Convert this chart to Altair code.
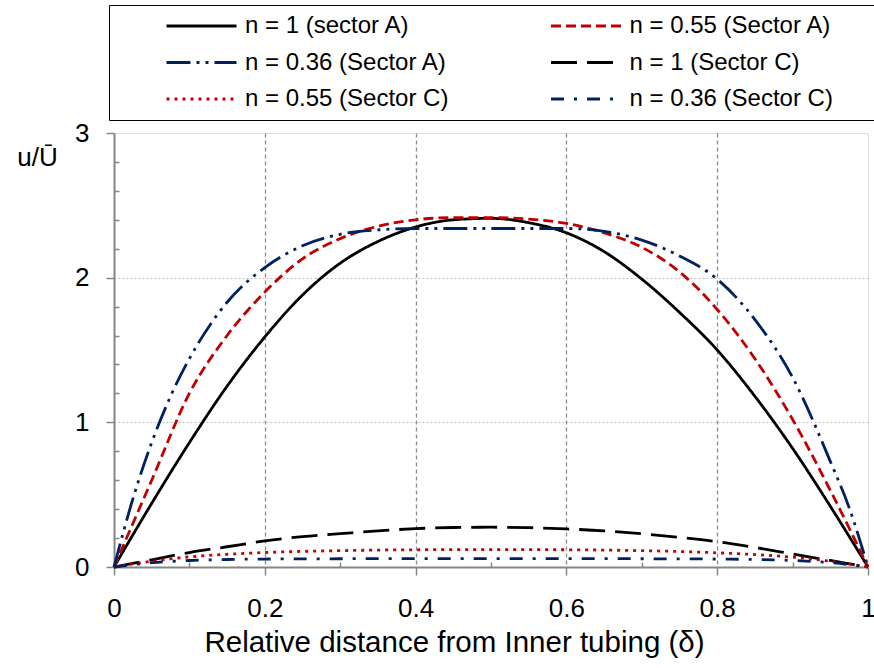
import altair as alt
import pandas as pd

# ---- data ----
x_std = [0, 0.05, 0.1, 0.15, 0.2, 0.25, 0.3, 0.35, 0.4, 0.45, 0.5,
         0.55, 0.6, 0.65, 0.7, 0.75, 0.8, 0.85, 0.9, 0.95, 1]
y_n1_A = [0, 0.44, 0.86, 1.25, 1.59, 1.88, 2.10, 2.25, 2.35, 2.40, 2.41,
          2.38, 2.31, 2.18, 1.99, 1.76, 1.50, 1.18, 0.82, 0.42, 0]
y_n055_A = [0, 0.60, 1.20, 1.60, 1.90, 2.13, 2.27, 2.355, 2.40, 2.415, 2.415,
            2.405, 2.375, 2.31, 2.21, 2.04, 1.78, 1.44, 1.02, 0.53, 0]
x_n036_A = [0, 0.025, 0.05, 0.075, 0.1, 0.15, 0.2, 0.25, 0.3, 0.35, 0.4, 0.45,
            0.5, 0.55, 0.6, 0.65, 0.7, 0.75, 0.8, 0.85, 0.9, 0.95, 0.975, 1]
y_n036_A = [0, 0.47, 0.86, 1.18, 1.44, 1.83, 2.07, 2.22, 2.30, 2.33, 2.34, 2.34,
            2.34, 2.34, 2.34, 2.32, 2.26, 2.15, 1.99, 1.71, 1.31, 0.73, 0.41, 0]
y_n1_C = [0, 0.05, 0.10, 0.14, 0.18, 0.21, 0.23, 0.25, 0.265, 0.273, 0.275,
          0.272, 0.263, 0.25, 0.23, 0.205, 0.175, 0.135, 0.09, 0.045, 0]
y_n055_C = [0, 0.04, 0.07, 0.088, 0.10, 0.108, 0.113, 0.117, 0.119, 0.12, 0.12,
            0.12, 0.119, 0.117, 0.113, 0.107, 0.098, 0.086, 0.068, 0.04, 0]
x_n036_C = [0, 0.05, 0.1, 0.15, 0.2, 0.3, 0.4, 0.5, 0.6, 0.7, 0.8, 0.85, 0.9, 0.95, 1]
y_n036_C = [0, 0.03, 0.045, 0.052, 0.055, 0.057, 0.058, 0.058, 0.058, 0.057,
            0.055, 0.052, 0.045, 0.03, 0]

# legend order (filled column by column: 3 rows x 2 columns)
labels = ["n = 1 (sector A)", "n = 0.36 (Sector A)", "n = 0.55 (Sector C)",
          "n = 0.55 (Sector A)", "n = 1 (Sector C)", "n = 0.36 (Sector C)"]
colors = ["#000000", "#002060", "#C00000", "#C00000", "#000000", "#002060"]
dashes = [[1, 0], [24, 6, 3, 6, 3, 6], [3, 5], [10, 5], [26, 10], [13, 10, 3, 10]]

x_major = [0, 0.2, 0.4, 0.6, 0.8, 1]
x_minor = [0.1, 0.3, 0.5, 0.7, 0.9]
y_major = [0, 1, 2, 3]
y_minor = [0.2, 0.4, 0.6, 0.8, 1.2, 1.4, 1.6, 1.8, 2.2, 2.4, 2.6, 2.8]

series = [
    ("n = 1 (sector A)", x_std, y_n1_A),
    ("n = 0.55 (Sector A)", x_std, y_n055_A),
    ("n = 0.36 (Sector A)", x_n036_A, y_n036_A),
    ("n = 1 (Sector C)", x_std, y_n1_C),
    ("n = 0.55 (Sector C)", x_std, y_n055_C),
    ("n = 0.36 (Sector C)", x_n036_C, y_n036_C),
]
rows = []
for name, xs, ys in series:
    for xv, yv in zip(xs, ys):
        rows.append({"series": name, "x": xv, "y": yv})
df = pd.DataFrame(rows)

FONT = "Liberation Sans"
GRAY = "#868686"

legend = alt.Legend(
    title=None, orient="none", legendX=-5, legendY=-128, columns=2,
    symbolType="stroke", symbolSize=4900, symbolStrokeWidth=3,
    clipHeight=26, rowPadding=10.5, columnPadding=16.5, padding=8,
    strokeColor="black", labelFont=FONT, labelFontSize=24, labelColor="black",
    labelOffset=7, symbolOffset=48, labelLimit=600,
    labelExpr="datum.label + '\u2800\u2800'",
)

xscale = alt.Scale(domain=[0, 1], nice=False, zero=False)
yscale = alt.Scale(domain=[0, 3], nice=False)

lines = alt.Chart(df).mark_line(strokeWidth=2.8, interpolate="monotone").encode(
    x=alt.X("x:Q", scale=xscale,
            axis=alt.Axis(
                values=x_major, format="~g", orient="bottom",
                title="Relative distance from Inner tubing (δ)",
                titleFont=FONT, titleFontSize=29.5, titleFontWeight="normal", titleColor="black",
                titleX=340, titleY=84, titleBaseline="alphabetic", titleAlign="center",
                labelFont=FONT, labelFontSize=26, labelColor="black", labelPadding=20,
                labelFlush=False, labelOverlap=False,
                domainColor=GRAY, domainWidth=2,
                tickColor=GRAY, tickWidth=1.5, tickSize=8,
                grid=True, gridColor="#8c8c8c", gridWidth=1.3, gridDash=[4, 3],
                gridOpacity={"condition": {"test": "datum.value > 0.05 && datum.value < 0.95", "value": 1}, "value": 0},
            )),
    y=alt.Y("y:Q", scale=yscale,
            axis=alt.Axis(
                values=y_major, format="~g", orient="left",
                title="u/Ū", titleAngle=0, titleFont=FONT, titleFontSize=26,
                titleFontWeight="normal", titleColor="black",
                titleX=-77, titleY=24, titleAlign="center", titleBaseline="middle",
                labelFont=FONT, labelFontSize=26, labelColor="black", labelPadding=17,
                labelOverlap=False, labelFlush=False,
                domainColor=GRAY, domainWidth=2,
                tickColor=GRAY, tickWidth=1.5, tickSize=8,
                grid=True, gridColor="#b0b0b0", gridWidth=0.8, gridDash=[2, 2],
                gridOpacity={"condition": {"test": "datum.value > 0.5 && datum.value < 2.5", "value": 1}, "value": 0},
            )),
    color=alt.Color("series:N", scale=alt.Scale(domain=labels, range=colors), legend=legend),
    strokeDash=alt.StrokeDash("series:N", scale=alt.Scale(domain=labels, range=dashes), legend=legend),
)

# invisible copy that carries the inward minor ticks
minor = alt.Chart(df).mark_line(opacity=0).encode(
    x=alt.X("x:Q", scale=xscale,
            axis=alt.Axis(values=x_minor, orient="bottom", offset=-5, tickSize=5,
                          tickColor=GRAY, tickWidth=1.5, domain=False, labels=False,
                          grid=False, title=None)),
    y=alt.Y("y:Q", scale=yscale,
            axis=alt.Axis(values=y_minor, orient="left", offset=-5, tickSize=5,
                          tickColor=GRAY, tickWidth=1.5, domain=False, labels=False,
                          grid=False, title=None)),
    detail="series:N",
)

chart = alt.layer(lines, minor).resolve_axis(x="independent", y="independent").properties(
    width=754, height=434,
    autosize=alt.AutoSizeParams(type="none"),
    padding={"left": 114, "top": 133, "right": 6, "bottom": 101},
).configure_view(
    stroke="black", strokeWidth=3
).configure_legend(
    strokeWidth=1.5
).configure(background="white")

chart.save("out.html", embed_options={"renderer": "svg", "actions": False})
